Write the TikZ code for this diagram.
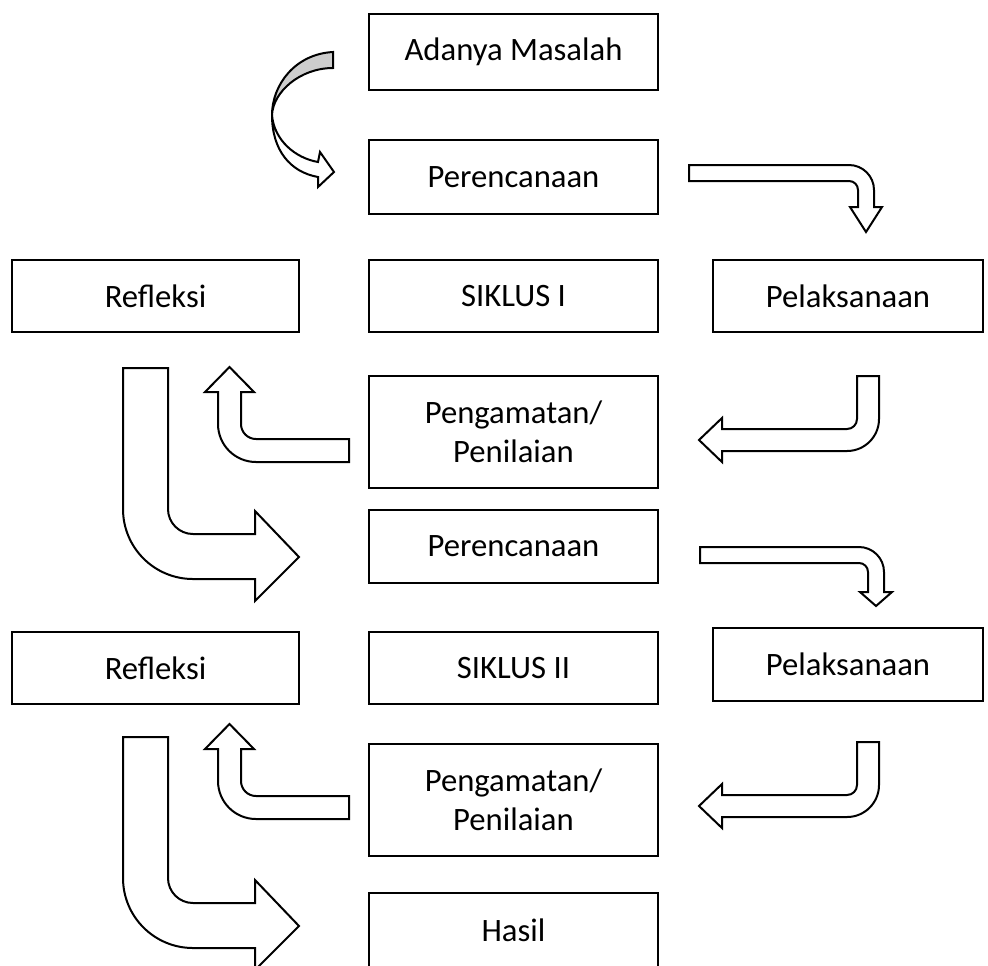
\documentclass[tikz,border=0pt]{standalone}
\usepackage{fontspec}
\setmainfont{Carlito}
\definecolor{shadegray}{RGB}{205,205,205}
\tikzset{
  boxnode/.style={draw=black, line width=1.9pt, inner sep=0pt, align=center, fill=white,
    font=\fontsize{24.5}{29.5}\selectfont},
  colc/.style={minimum width=216.75pt},
  coll/.style={minimum width=215.25pt},
  colr/.style={minimum width=202.5pt},
  blockarrow/.style={draw=black, line width=1.5pt, fill=white, line join=miter},
}
\begin{document}
\begin{tikzpicture}[x=0.75pt,y=-0.75pt]
\useasboundingbox (0,0) rectangle (988,965);
\begin{scope}
\clip (0,0) rectangle (988,965);
\fill[white] (0,0) rectangle (988,965);

% boxes
\node[boxnode,colc,minimum height=57pt]   (adanya) at (513.5,52)  {Adanya Masalah};
\node[boxnode,colc,minimum height=55.5pt] (ren1)   at (513.5,177) {Perencanaan};
\node[boxnode,coll,minimum height=54pt]   (ref1)   at (155.5,296) {Refleksi};
\node[boxnode,colc,minimum height=54pt]   (sik1)   at (513.5,296) {SIKLUS I};
\node[boxnode,colr,minimum height=54pt]   (pel1)   at (848,296)   {Pelaksanaan};
\node[boxnode,colc,minimum height=84pt]   (pen1)   at (513.5,432) {Pengamatan/\\Penilaian};
\node[boxnode,colc,minimum height=54.75pt](ren2)   at (513.5,546.5) {Perencanaan};
\node[boxnode,coll,minimum height=54pt]   (ref2)   at (155.5,668) {Refleksi};
\node[boxnode,colc,minimum height=54pt]   (sik2)   at (513.5,668) {SIKLUS II};
\node[boxnode,colr,minimum height=54.75pt](pel2)   at (848,664.5) {Pelaksanaan};
\node[boxnode,colc,minimum height=84pt]   (pen2)   at (513.5,800) {Pengamatan/\\Penilaian};
\node[boxnode,colc,minimum height=55.5pt] (hasil)  at (513.5,930) {Hasil};

% curved arrow: Adanya Masalah -> Perencanaan
\draw[blockarrow, fill=shadegray] (333,52) .. controls (295,54) and (272,85) .. (272,115)
   .. controls (273,92) and (300,68) .. (333,68) -- cycle;
\draw[blockarrow] (272,115) .. controls (272,150) and (290,172) .. (318,177)
   -- (318,187) -- (334,172) -- (320,152) -- (318,162)
   .. controls (295,158) and (274,140) .. (272,115) -- cycle;

% Perencanaan -> Pelaksanaan (cycle I)
\draw[blockarrow] (689,165) -- (849,165) .. controls (862.8,165) and (874,176.2) .. (874,190)
   -- (874,207) -- (882,207) -- (866,232) -- (850,207) -- (858,207) -- (858,190)
   .. controls (858,185) and (854,181) .. (849,181) -- (689,181) -- cycle;

% Perencanaan -> Pelaksanaan (cycle II)
\draw[blockarrow] (700,547) -- (859,547) .. controls (872.8,547) and (884,558.2) .. (884,572)
   -- (884,592) -- (892,592) -- (876,606) -- (860,592) -- (868,592) -- (868,572)
   .. controls (868,567) and (864,563) .. (859,563) -- (700,563) -- cycle;

% Pelaksanaan -> Pengamatan (both cycles)
\foreach \dy in {0,366}{
\begin{scope}[shift={(0,\dy)}]
\draw[blockarrow] (857,376) -- (879,376) -- (879,419) .. controls (879,436.7) and (864.7,451) .. (847,451)
   -- (722,451) -- (722,462) -- (699,440) -- (722,418) -- (722,429) -- (847,429)
   .. controls (852.5,429) and (857,424.5) .. (857,419) -- cycle;
\end{scope}}

% Pengamatan -> Refleksi (both cycles)
\foreach \dy in {0,357}{
\begin{scope}[shift={(0,\dy)}]
\draw[blockarrow] (349,439) -- (256,439) .. controls (247.7,439) and (241,432.3) .. (241,424)
   -- (241,392) -- (254,392) -- (229.5,367) -- (205,392) -- (218,392) -- (218,424)
   .. controls (218,445) and (235,462) .. (256,462) -- (349,462) -- cycle;
\end{scope}}

% Refleksi -> Perencanaan / Hasil (big L arrows)
\foreach \dy in {0,369}{
\begin{scope}[shift={(0,\dy)}]
\draw[blockarrow] (123,368) -- (168,368) -- (168,509) .. controls (168,522.8) and (179.2,534) .. (193,534)
   -- (255,534) -- (255,511) -- (299,557) -- (255,601) -- (255,579) -- (193,579)
   .. controls (154.3,579) and (123,547.7) .. (123,509) -- cycle;
\end{scope}}
\end{scope}
\end{tikzpicture}
\end{document}
